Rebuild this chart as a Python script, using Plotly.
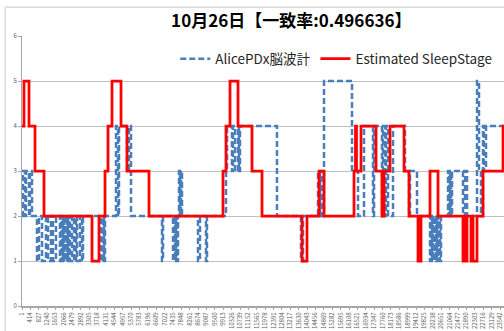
import plotly.graph_objects as go

# Sleep-stage step series: each list gives the epoch index where a new stage
# starts, and the stage held from that index on.
alice_start = [1, 50, 149, 198, 346, 395, 493, 740, 838, 986, 1183, 1282, 1429, 1528,
               1675, 1872, 1922, 1971, 2020, 2070, 2119, 2168, 2217, 2267, 2316, 2365,
               2464, 2562, 2661, 2710, 2858, 2956, 3005, 3892, 3990, 4040, 4089, 4631,
               4729, 4778, 5172, 5271, 5369, 6896, 6945, 7438, 7487, 7536, 7585, 7635,
               7684, 7733, 7782, 7832, 7881, 8669, 8767, 9063, 9112, 10048, 10097, 10343,
               10393, 10491, 10639, 10688, 10738, 12559, 13741, 13840, 14579, 14677,
               14727, 14825, 14875, 16254, 16549, 16845, 17288, 17338, 17731, 17780,
               17879, 17928, 18027, 18273, 18864, 19061, 19110, 19455, 20095, 20144,
               20193, 20243, 20292, 20341, 20391, 20440, 20489, 20538, 20588, 20637,
               20686, 20982, 21031, 21080, 21130, 21179, 21721, 21819, 21918, 22410,
               22508, 22607, 22706, 22755, 22853, 23739]
alice_stage = [2, 3, 2, 3, 2, 3, 2, 1, 2, 1, 2, 1, 2, 1,
               2, 1, 2, 1, 2, 1, 2, 1, 2, 1, 2, 1,
               2, 1, 2, 1, 2, 1, 2, 1, 2, 1, 2, 4,
               2, 4, 3, 4, 2, 1, 2, 1, 2, 1, 2, 1,
               2, 3, 2, 3, 2, 1, 2, 1, 2, 3, 4, 3,
               4, 3, 4, 3, 4, 2, 1, 2, 3, 2,
               3, 2, 5, 3, 2, 4, 2, 4, 2, 4,
               2, 4, 2, 4, 3, 2, 3, 2, 1, 2,
               1, 2, 1, 2, 1, 2, 1, 2, 1, 2,
               2, 3, 2, 3, 2, 3, 2, 3, 2, 5,
               3, 2, 4, 3, 4, 4]

est_start = [1, 99, 346, 641, 1085, 3449, 3793, 4089, 4237, 4434, 4877, 5172, 6256,
             9900, 10048, 10245, 10639, 11329, 11821, 13791, 14037, 14628, 14875,
             16352, 16425, 16475, 16697, 17436, 17731, 17830, 18125, 18815, 19061,
             19504, 19554, 19603, 19652, 20095, 20489, 21720, 21770, 21868, 21918,
             22115, 22164, 22213, 22410, 22706, 23691, 23739]
est_stage = [4, 5, 4, 3, 2, 1, 2, 3, 4, 5, 4, 3, 2,
             3, 4, 5, 4, 3, 2, 1, 2, 3, 2,
             3, 4, 3, 4, 3, 2, 3, 4, 3, 2,
             1, 2, 1, 2, 3, 2, 1, 2, 1, 2,
             1, 2, 1, 2, 3, 4, 3, 3]

x_ticks = [1, 414, 827, 1240, 1653, 2066, 2479, 2892, 3305, 3718, 4131, 4544, 4957,
           5370, 5783, 6196, 6609, 7022, 7435, 7848, 8261, 8674, 9087, 9500, 9913,
           10326, 10739, 11152, 11565, 11978, 12391, 12804, 13217, 13630, 14043,
           14456, 14869, 15282, 15695, 16108, 16521, 16934, 17347, 17760, 18173,
           18586, 18999, 19412, 19825, 20238, 20651, 21064, 21477, 21890, 22303,
           22716, 23129, 23542]
y_ticks = [0, 1, 2, 3, 4, 5, 6]

title_text = "10月26日【一致率:0.496636】"
series_names = ["AlicePDx脳波計", "Estimated SleepStage"]

FONT = "Noto Sans CJK JP, Noto Sans, sans-serif"

fig = go.Figure()
fig.add_trace(go.Scatter(
    x=alice_start, y=alice_stage, name=series_names[0], mode="lines",
    line=dict(shape="hv", color="#4A7EBB", width=2.5, dash="6px,3px"),
))
fig.add_trace(go.Scatter(
    x=est_start, y=est_stage, name=series_names[1], mode="lines",
    line=dict(shape="hv", color="#FF0000", width=2.75),
))

fig.update_layout(
    width=504, height=331,
    margin=dict(l=22, r=0, t=36, b=25, autoexpand=False),
    paper_bgcolor="white", plot_bgcolor="white",
    font=dict(family=FONT, color="#404040"),
    title=dict(text=title_text, x=0.578, xanchor="center", y=0.935, yanchor="middle",
               font=dict(family=FONT, size=17, color="#000000", weight="bold")),
    legend=dict(orientation="h", x=0.318, xanchor="left", y=0.915, yanchor="middle",
                font=dict(family=FONT, size=13.5, color="#262626"),
                bgcolor="rgba(0,0,0,0)", itemwidth=30, tracegroupgap=0),
    showlegend=True,
    shapes=[dict(type="rect", xref="paper", yref="paper",
                 x0=-0.035, x1=1.05, y0=-0.2, y1=1.107,
                 line=dict(color="#c8c8c8", width=1), fillcolor="rgba(0,0,0,0)",
                 layer="below")],
)

fig.update_xaxes(
    range=[1, 23739], tickmode="array", tickvals=x_ticks,
    ticktext=[str(v) for v in x_ticks], tickangle=-90,
    tickfont=dict(size=6, color="#595959"),
    showgrid=False, zeroline=False, showline=True, linecolor="#a6a6a6", linewidth=2,
    ticks="outside", ticklen=2, tickcolor="#a6a6a6",
)
fig.update_yaxes(
    range=[0, 6], tickmode="array", tickvals=y_ticks,
    tickfont=dict(size=6, color="#595959"),
    showgrid=True, gridcolor="#c0c0c0", gridwidth=1, zeroline=False,
    showline=True, linecolor="#a6a6a6", linewidth=1,
    ticks="outside", ticklen=3, tickcolor="#a6a6a6",
)

fig.write_html("out.html")
